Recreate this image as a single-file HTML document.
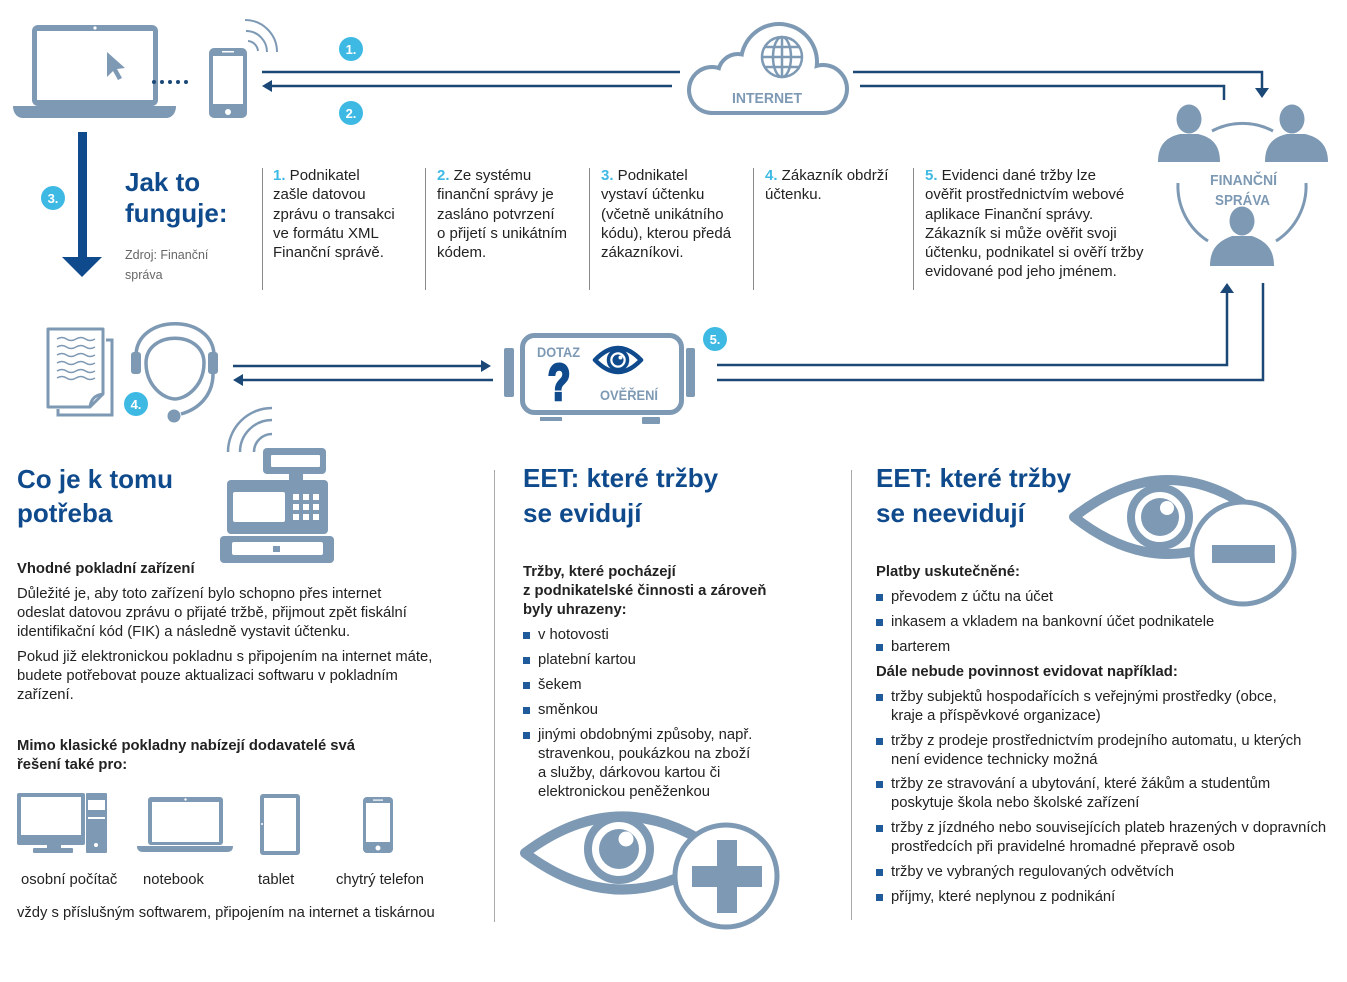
<!DOCTYPE html>
<html><head><meta charset="utf-8">
<style>
*{margin:0;padding:0;box-sizing:border-box}
html,body{width:1347px;height:982px;background:#fff;overflow:hidden}
body{font-family:"Liberation Sans",sans-serif;color:#222}
#c{position:relative;width:1347px;height:982px}
svg{position:absolute;left:0;top:0}
.t{position:absolute;white-space:nowrap;font-size:15px;line-height:19.3px}
.n{color:#3db9e4;font-weight:bold}
.h{position:absolute;white-space:nowrap;font-size:26px;font-weight:bold;color:#0f4a8c}
.b{font-weight:bold}
.p{position:absolute;white-space:nowrap;font-size:14.8px;line-height:19px}
.li{position:absolute;white-space:nowrap;font-size:14.8px;line-height:19px;padding-left:15px}
.li:before{content:"";position:absolute;left:0;top:6px;width:7px;height:7px;background:#1f5a9a}
.src{position:absolute;white-space:nowrap;font-size:12.5px;line-height:20px;color:#666}
</style></head>
<body><div id="c">
<svg width="1347" height="982" viewBox="0 0 1347 982" font-family="Liberation Sans, sans-serif">
<!-- laptop -->
<rect x="32" y="25" width="126" height="81" rx="6" fill="#7d99b4"/>
<rect x="37" y="31" width="116" height="69" fill="#fff"/>
<circle cx="95" cy="28" r="1.6" fill="#fff"/>
<path d="M13 106H176C176 113 172 118 166 118H23C17 118 13 113 13 106Z" fill="#7d99b4"/>
<path d="M107 52L107 77L113 71L118 80L122 78L117 69L125 68Z" fill="#7d99b4"/>
<g fill="#1b4877"><circle cx="154" cy="82" r="2"/><circle cx="162" cy="82" r="2"/><circle cx="170" cy="82" r="2"/><circle cx="178" cy="82" r="2"/><circle cx="186" cy="82" r="2"/></g>
<!-- phone -->
<rect x="209" y="48" width="38" height="70" rx="5" fill="#7d99b4"/>
<rect x="213" y="56" width="30" height="48" fill="#fff"/>
<rect x="222" y="51" width="12" height="1.5" fill="#fff"/>
<circle cx="228" cy="112" r="3" fill="#fff"/>
<g fill="none" stroke="#7d99b4" stroke-width="2"><path d="M245 20A32 32 0 0 1 277 52"/><path d="M246 31A21 21 0 0 1 267 52"/><path d="M248 41A11 11 0 0 1 258 51"/></g>

<!-- connectors -->
<g stroke="#1b4877" stroke-width="2.5" fill="none">
<path d="M262 72H680"/>
<path d="M270 86H672"/>
<path d="M853 72H1262V90"/>
<path d="M860 86H1224V100"/>
<path d="M717 365H1227V290"/>
<path d="M717 380H1263V283"/>
<path d="M233 366H483"/>
<path d="M241 380H493"/>
</g>
<g fill="#1b4877">
<polygon points="262,86 272,80 272,92"/>
<polygon points="1255,88 1269,88 1262,98"/>
<polygon points="1220,293 1234,293 1227,283"/>
<polygon points="491,366 481,360 481,372"/>
<polygon points="233,380 243,374 243,386"/>
</g>

<!-- arrow 3 -->
<rect x="78" y="132" width="9" height="127" fill="#0f4a8c"/>
<polygon points="62,257 102,257 82,277" fill="#0f4a8c"/>

<!-- cloud -->
<g fill="#7d99b4" stroke="#7d99b4" stroke-width="8" stroke-linejoin="round">
<circle cx="712" cy="90" r="21"/><circle cx="738" cy="74" r="18"/><circle cx="779" cy="62" r="36"/><circle cx="823" cy="89" r="22"/><rect x="712" y="80" width="111" height="31"/>
</g>
<g fill="#fff">
<circle cx="712" cy="90" r="21"/><circle cx="738" cy="74" r="18"/><circle cx="779" cy="62" r="36"/><circle cx="823" cy="89" r="22"/><rect x="712" y="80" width="111" height="31"/>
</g>
<g fill="none" stroke="#7d99b4" stroke-width="2.5">
<circle cx="782" cy="57" r="20"/><ellipse cx="782" cy="57" rx="9" ry="20"/>
<path d="M782 37V77M762 57H802M765 47H799M765 67H799"/>
</g>
<text x="732" y="103" font-size="15" font-weight="bold" fill="#7d99b4" textLength="70" lengthAdjust="spacingAndGlyphs">INTERNET</text>

<!-- finance persons -->
<g fill="#7d99b4">
<ellipse cx="1189" cy="119" rx="12.5" ry="14.5"/>
<path d="M1158 162C1158 144 1167 137 1180 134L1198 134C1211 137 1220 144 1220 162Z"/>
<ellipse cx="1292" cy="119" rx="12.5" ry="14.5"/>
<path d="M1265 162C1265 144 1274 137 1287 134L1305 134C1318 137 1328 144 1328 162Z"/>
<ellipse cx="1242" cy="221" rx="12.5" ry="14.5"/>
<path d="M1210 266C1210 248 1219 241 1232 236L1252 236C1265 241 1274 248 1274 266Z"/>
</g>
<g fill="none" stroke="#7d99b4" stroke-width="3">
<path d="M1212 131A65 65 0 0 1 1273 131"/>
<path d="M1178 183A65 65 0 0 0 1208 241"/>
<path d="M1306 183A65 65 0 0 1 1276 241"/>
</g>
<text x="1210" y="185" font-size="15" font-weight="bold" fill="#7d99b4" textLength="67" lengthAdjust="spacingAndGlyphs">FINANČNÍ</text>
<text x="1215" y="205" font-size="15" font-weight="bold" fill="#7d99b4" textLength="55" lengthAdjust="spacingAndGlyphs">SPRÁVA</text>

<!-- documents -->
<path d="M58 409V415H112V340H106" fill="none" stroke="#7d99b4" stroke-width="3"/>
<path d="M48 329H103V394L90 407H48Z" fill="#fff" stroke="#7d99b4" stroke-width="3" stroke-linejoin="round"/>
<path d="M90 407C91 399 95 395 103 394" fill="none" stroke="#7d99b4" stroke-width="3"/>
<g fill="none" stroke="#7d99b4" stroke-width="1.5">
<path d="M57 339q5 -3 9.5 0t9.5 0t9.5 0t9.5 0"/>
<path d="M57 347q5 -3 9.5 0t9.5 0t9.5 0t9.5 0"/>
<path d="M57 355q5 -3 9.5 0t9.5 0t9.5 0t9.5 0"/>
<path d="M57 363q5 -3 9.5 0t9.5 0t9.5 0t9.5 0"/>
<path d="M57 371q5 -3 9.5 0t9.5 0t9.5 0t9.5 0"/>
<path d="M57 378q5 -3 9.5 0t9.5 0t9.5 0t9.5 0"/>
</g>
<!-- headset -->
<g fill="none" stroke="#7d99b4" stroke-width="3.5">
<path d="M136 356C136 313 214 313 214 356"/>
<path d="M146 363C146 330 204 330 204 363C204 386 186 399 175 399C164 399 146 386 146 363Z"/>
<path d="M213 374C213 395 199 409 181 414"/>
</g>
<rect x="131" y="352" width="10" height="22" rx="3" fill="#7d99b4"/>
<rect x="208" y="352" width="10" height="22" rx="3" fill="#7d99b4"/>
<circle cx="174" cy="416" r="6.5" fill="#7d99b4"/>

<!-- DOTAZ device -->
<rect x="504" y="348" width="10" height="49" rx="2" fill="#7d99b4"/>
<rect x="686" y="348" width="9" height="49" rx="2" fill="#7d99b4"/>
<rect x="522.5" y="335.5" width="159" height="77" rx="12" fill="#fff" stroke="#7d99b4" stroke-width="5"/>
<rect x="540" y="417" width="22" height="4" fill="#7d99b4"/>
<rect x="642" y="417" width="18" height="7" rx="1" fill="#7d99b4"/>
<text x="537" y="357" font-size="14" font-weight="bold" fill="#7d99b4" textLength="43" lengthAdjust="spacingAndGlyphs">DOTAZ</text>
<text transform="translate(559,400) scale(0.72,1)" x="0" y="0" text-anchor="middle" font-size="52" font-weight="bold" fill="#0f4a8c" stroke="#0f4a8c" stroke-width="2.5">?</text>
<path d="M595 360Q618 336 641 360Q618 384 595 360Z" fill="#fff" stroke="#0f4a8c" stroke-width="4.5" stroke-linejoin="round"/>
<circle cx="618" cy="360" r="9.5" fill="none" stroke="#0f4a8c" stroke-width="3.5"/>
<circle cx="618" cy="360" r="5.5" fill="#0f4a8c"/>
<circle cx="620.5" cy="357.5" r="2" fill="#fff"/>
<text x="600" y="400" font-size="14" font-weight="bold" fill="#7d99b4" textLength="58" lengthAdjust="spacingAndGlyphs">OVĚŘENÍ</text>

<!-- number circles -->
<g font-size="13" font-weight="bold" fill="#fff" text-anchor="middle">
<circle cx="351" cy="49" r="12" fill="#3db9e4"/><text x="351" y="54">1.</text>
<circle cx="351" cy="113" r="12" fill="#3db9e4"/><text x="351" y="118">2.</text>
<circle cx="53" cy="198" r="12" fill="#3db9e4"/><text x="53" y="203">3.</text>
<circle cx="136" cy="404" r="12" fill="#3db9e4"/><text x="136" y="409">4.</text>
<circle cx="715" cy="339" r="12" fill="#3db9e4"/><text x="715" y="344">5.</text>
</g>

<!-- step separators -->
<g stroke="#8a8a8a" stroke-width="1">
<path d="M262.5 168V290M425.5 168V290M589.5 168V290M753.5 168V290M913.5 168V290"/>
<path d="M494.5 470V922M851.5 470V920" stroke="#aaa"/>
</g>

<!-- cash register -->
<g fill="none" stroke="#7d99b4" stroke-width="2.5">
<path d="M228 452A44 44 0 0 1 272 408"/>
<path d="M240 452A32 32 0 0 1 272 420"/>
<path d="M254 452A18 18 0 0 1 272 434"/>
</g>
<rect x="263" y="448" width="63" height="26" rx="4" fill="#7d99b4"/>
<rect x="271" y="455" width="49" height="12" rx="1" fill="#fff"/>
<rect x="289" y="473" width="14" height="8" fill="#7d99b4"/>
<rect x="227" y="480" width="101" height="54" rx="4" fill="#7d99b4"/>
<rect x="233" y="492" width="52" height="30" rx="2" fill="#fff"/>
<g fill="#fff">
<rect x="293" y="494" width="6" height="6"/><rect x="303" y="494" width="6" height="6"/><rect x="313" y="494" width="6" height="6"/>
<rect x="293" y="504" width="6" height="6"/><rect x="303" y="504" width="6" height="6"/><rect x="313" y="504" width="6" height="6"/>
<rect x="293" y="514" width="6" height="6"/><rect x="303" y="514" width="6" height="6"/><rect x="313" y="514" width="6" height="6"/>
</g>
<rect x="220" y="536" width="114" height="27" rx="4" fill="#7d99b4"/>
<rect x="232" y="542" width="91" height="13" rx="2" fill="#fff"/>
<rect x="273" y="546" width="7" height="6" fill="#7d99b4"/>

<!-- bottom devices -->
<rect x="17" y="793" width="68" height="52" rx="2" fill="#7d99b4"/>
<rect x="21" y="797" width="60" height="38" fill="#fff"/>
<rect x="47" y="845" width="14" height="4" fill="#7d99b4"/>
<rect x="33" y="848" width="40" height="5" rx="1" fill="#7d99b4"/>
<rect x="86" y="793" width="21" height="60" rx="1" fill="#7d99b4"/>
<rect x="88" y="800" width="17" height="10" fill="#fff"/>
<rect x="88" y="817" width="17" height="2" fill="#fff"/>
<circle cx="96" cy="845" r="2" fill="#fff"/>

<rect x="148" y="797" width="75" height="48" rx="3" fill="#7d99b4"/>
<rect x="152" y="802" width="67" height="40" fill="#fff"/>
<circle cx="185.5" cy="799.5" r="1.2" fill="#fff"/>
<path d="M137 846H233C233 850 231 852 227 852H143C139 852 137 850 137 846Z" fill="#7d99b4"/>

<rect x="260" y="794" width="40" height="61" rx="3" fill="#7d99b4"/>
<rect x="264" y="798" width="32" height="53" fill="#fff"/>
<circle cx="262" cy="824" r="1" fill="#fff"/>

<rect x="363" y="797" width="30" height="56" rx="4" fill="#7d99b4"/>
<rect x="366" y="803" width="24" height="39" fill="#fff"/>
<rect x="373" y="799.5" width="10" height="1.2" fill="#fff"/>
<circle cx="378" cy="848" r="2.5" fill="#fff"/>

<!-- eye plus -->
<path d="M525 853Q622 780 720 853Q622 926 525 853Z" fill="#fff" stroke="#7d99b4" stroke-width="10" stroke-linejoin="round"/>
<circle cx="619" cy="849" r="31" fill="none" stroke="#7d99b4" stroke-width="8"/>
<circle cx="619" cy="849" r="20" fill="#7d99b4"/>
<circle cx="626" cy="839" r="7.5" fill="#fff"/>
<circle cx="726" cy="876" r="51" fill="#fff" stroke="#7d99b4" stroke-width="5"/>
<rect x="692" y="866" width="70" height="21" fill="#7d99b4"/>
<rect x="717" y="840" width="20" height="73" fill="#7d99b4"/>

<!-- eye minus -->
<path d="M1074 517Q1168 443 1262 517Q1168 591 1074 517Z" fill="#fff" stroke="#7d99b4" stroke-width="10" stroke-linejoin="round"/>
<circle cx="1160" cy="517" r="29" fill="none" stroke="#7d99b4" stroke-width="8"/>
<circle cx="1160" cy="517" r="19" fill="#7d99b4"/>
<circle cx="1167" cy="508" r="7" fill="#fff"/>
<circle cx="1243" cy="553" r="51" fill="#fff" stroke="#7d99b4" stroke-width="5"/>
<rect x="1212" y="545" width="63" height="18" fill="#7d99b4"/>
</svg>

<!-- Jak to funguje -->
<div class="h" style="left:125px;top:166.5px;line-height:31px">Jak to<br>funguje:</div>
<div class="src" style="left:125px;top:245px">Zdroj: Finanční<br>správa</div>

<div class="t" style="left:273px;top:166px"><span class="n">1.</span> Podnikatel<br>zašle datovou<br>zprávu o transakci<br>ve formátu XML<br>Finanční správě.</div>
<div class="t" style="left:437px;top:166px"><span class="n">2.</span> Ze systému<br>finanční správy je<br>zasláno potvrzení<br>o přijetí s unikátním<br>kódem.</div>
<div class="t" style="left:601px;top:166px"><span class="n">3.</span> Podnikatel<br>vystaví účtenku<br>(včetně unikátního<br>kódu), kterou předá<br>zákazníkovi.</div>
<div class="t" style="left:765px;top:166px"><span class="n">4.</span> Zákazník obdrží<br>účtenku.</div>
<div class="t" style="left:925px;top:166px"><span class="n">5.</span> Evidenci dané tržby lze<br>ověřit prostřednictvím webové<br>aplikace Finanční správy.<br>Zákazník si může ověřit svoji<br>účtenku, podnikatel si ověří tržby<br>evidované pod jeho jménem.</div>

<!-- Co je k tomu potřeba -->
<div class="h" style="left:17px;top:462px;line-height:34px">Co je k tomu<br>potřeba</div>
<div class="p b" style="left:17px;top:559.5px">Vhodné pokladní zařízení</div>
<div class="p" style="left:17px;top:584.5px">Důležité je, aby toto zařízení bylo schopno přes internet<br>odeslat datovou zprávu o přijaté tržbě, přijmout zpět fiskální<br>identifikační kód (FIK) a následně vystavit účtenku.</div>
<div class="p" style="left:17px;top:647.5px">Pokud již elektronickou pokladnu s připojením na internet máte,<br>budete potřebovat pouze aktualizaci softwaru v pokladním<br>zařízení.</div>
<div class="p b" style="left:17px;top:736.5px">Mimo klasické pokladny nabízejí dodavatelé svá<br>řešení také pro:</div>
<div class="p" style="left:21px;top:870.5px">osobní počítač</div>
<div class="p" style="left:143px;top:870.5px">notebook</div>
<div class="p" style="left:258px;top:870.5px">tablet</div>
<div class="p" style="left:336px;top:870.5px">chytrý telefon</div>
<div class="p" style="left:17px;top:903.5px">vždy s příslušným softwarem, připojením na internet a tiskárnou</div>

<!-- EET eviduji -->
<div class="h" style="left:523px;top:460.5px;line-height:35px">EET: které tržby<br>se evidují</div>
<div class="p b" style="left:523px;top:562.5px">Tržby, které pocházejí<br>z podnikatelské činnosti a zároveň<br>byly uhrazeny:</div>
<div class="li" style="left:523px;top:625.5px">v hotovosti</div>
<div class="li" style="left:523px;top:650.5px">platební kartou</div>
<div class="li" style="left:523px;top:675.5px">šekem</div>
<div class="li" style="left:523px;top:700.5px">směnkou</div>
<div class="li" style="left:523px;top:725.5px">jinými obdobnými způsoby, např.<br>stravenkou, poukázkou na zboží<br>a služby, dárkovou kartou či<br>elektronickou peněženkou</div>

<!-- EET neeviduji -->
<div class="h" style="left:876px;top:460.5px;line-height:35px">EET: které tržby<br>se neevidují</div>
<div class="p b" style="left:876px;top:562.5px">Platby uskutečněné:</div>
<div class="li" style="left:876px;top:587.5px">převodem z účtu na účet</div>
<div class="li" style="left:876px;top:612.5px">inkasem a vkladem na bankovní účet podnikatele</div>
<div class="li" style="left:876px;top:637.5px">barterem</div>
<div class="p b" style="left:876px;top:662.5px">Dále nebude povinnost evidovat například:</div>
<div class="li" style="left:876px;top:687.5px">tržby subjektů hospodařících s veřejnými prostředky (obce,<br>kraje a příspěvkové organizace)</div>
<div class="li" style="left:876px;top:731.5px">tržby z prodeje prostřednictvím prodejního automatu, u kterých<br>není evidence technicky možná</div>
<div class="li" style="left:876px;top:775px">tržby ze stravování a ubytování, které žákům a studentům<br>poskytuje škola nebo školské zařízení</div>
<div class="li" style="left:876px;top:819px">tržby z jízdného nebo souvisejících plateb hrazených v dopravních<br>prostředcích při pravidelné hromadné přepravě osob</div>
<div class="li" style="left:876px;top:863px">tržby ve vybraných regulovaných odvětvích</div>
<div class="li" style="left:876px;top:888px">příjmy, které neplynou z podnikání</div>
</div></body></html>
